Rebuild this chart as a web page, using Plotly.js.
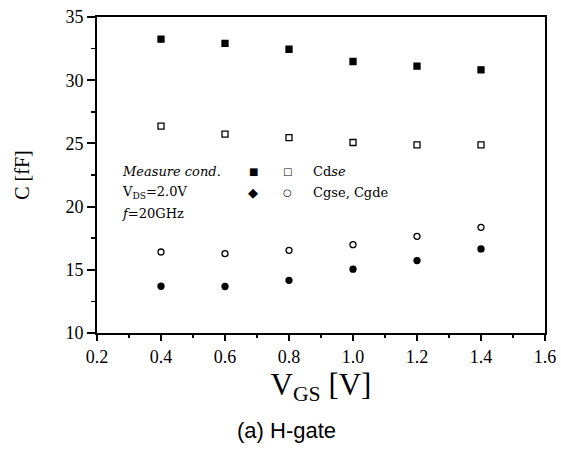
<!DOCTYPE html>
<html>
<head>
<meta charset="utf-8">
<script src="https://cdn.plot.ly/plotly-3.0.1.min.js"></script>
<style>html,body{margin:0;padding:0;background:#fff}#plot{width:561px;height:450px}</style>
</head>
<body>
<div id="plot"></div>
<script>
const vgs = [0.4, 0.6, 0.8, 1.0, 1.2, 1.4];
const cdseMeasured = [33.25, 32.92, 32.45, 31.48, 31.12, 30.82];
const cdseModel = [26.37, 25.73, 25.45, 25.07, 24.89, 24.89];
const cgseMeasured = [13.70, 13.68, 14.17, 15.05, 15.73, 16.65];
const cgseModel = [16.41, 16.28, 16.54, 16.99, 17.65, 18.36];
const xTicks = [0.2, 0.4, 0.6, 0.8, 1.0, 1.2, 1.4, 1.6];
const xTickLabels = ['0.2', '0.4', '0.6', '0.8', '1.0', '1.2', '1.4', '1.6'];
const yTicks = [10, 15, 20, 25, 30, 35];

const serif = 'Liberation Serif, Times New Roman, serif';
const wideSerif = 'DejaVu Serif, serif';
const mk = (x, y, symbol, size) => ({
  x, y, type: 'scatter', mode: 'markers', showlegend: false, hoverinfo: 'skip',
  marker: {symbol, size, color: '#000', line: {color: '#000', width: 1.3}}
});

const data = [
  mk(vgs, cdseMeasured, 'square', 6),
  mk(vgs, cdseModel, 'square-open', 6),
  mk(vgs, cgseMeasured, 'circle', 6),
  mk(vgs, cgseModel, 'circle-open', 6)
];

const ann = (x, y, text, opts = {}) => Object.assign({
  xref: 'paper', yref: 'paper', x, y, text, showarrow: false,
  xanchor: 'left', yanchor: 'middle',
  font: {family: wideSerif, size: 13, color: '#000'}
}, opts);

// plot area: x 97..545, y 17..333
const px = p => (p - 97) / 448;
const py = p => (333 - p) / 316;
const sym = {family: 'DejaVu Sans', size: 10, color: '#000'};

const layout = {
  width: 561, height: 450,
  margin: {l: 97, r: 16, t: 17, b: 117},
  paper_bgcolor: '#fff', plot_bgcolor: '#fff',
  xaxis: {
    range: [0.2, 1.6], tickvals: xTicks, ticktext: xTickLabels,
    showgrid: false, zeroline: false, showline: true, linecolor: '#000', linewidth: 2,
    mirror: true, ticks: 'outside', ticklen: 6, tickwidth: 2, tickcolor: '#000',
    minor: {dtick: 0.1, ticks: 'outside', ticklen: 3, tickwidth: 1.5, tickcolor: '#000', showgrid: false},
    tickfont: {family: serif, size: 18, color: '#000'},
    title: {text: 'V<sub>GS</sub> [V]', font: {family: serif, size: 31, color: '#000'}, standoff: 6}
  },
  yaxis: {
    range: [10, 35], tickvals: yTicks,
    showgrid: false, zeroline: false, showline: true, linecolor: '#000', linewidth: 2,
    mirror: true, ticks: 'outside', ticklen: 8, tickwidth: 2, tickcolor: '#000',
    minor: {dtick: 2.5, ticks: 'outside', ticklen: 4, tickwidth: 1.5, tickcolor: '#000', showgrid: false},
    tickfont: {family: serif, size: 18, color: '#000'},
    title: {text: 'C [fF]', font: {family: serif, size: 20, color: '#000'}, standoff: 30}
  },
  annotations: [
    ann(px(120), py(172), '<i>Measure cond.</i>'),
    ann(px(120), py(192), 'V<sub>DS</sub>=2.0V'),
    ann(px(120), py(213), '<i>f</i>=20GHz'),
    ann(px(253), py(172), '■', {xanchor: 'center', font: sym}),
    ann(px(287), py(172), '□', {xanchor: 'center', font: sym}),
    ann(px(253), py(192), '◆', {xanchor: 'center', font: {family: 'DejaVu Sans', size: 13, color: '#000'}}),
    ann(px(287), py(192), '○', {xanchor: 'center', font: sym}),
    ann(px(311), py(172), 'Cd<i>se</i>'),
    ann(px(311), py(192), 'Cgse, Cgde'),
    ann(px(286), py(431), '(a) H-gate', {xanchor: 'center', font: {family: 'Liberation Sans, Arial, sans-serif', size: 22, color: '#000'}})
  ]
};

Plotly.newPlot('plot', data, layout, {displayModeBar: false, staticPlot: true});
</script>
</body>
</html>
